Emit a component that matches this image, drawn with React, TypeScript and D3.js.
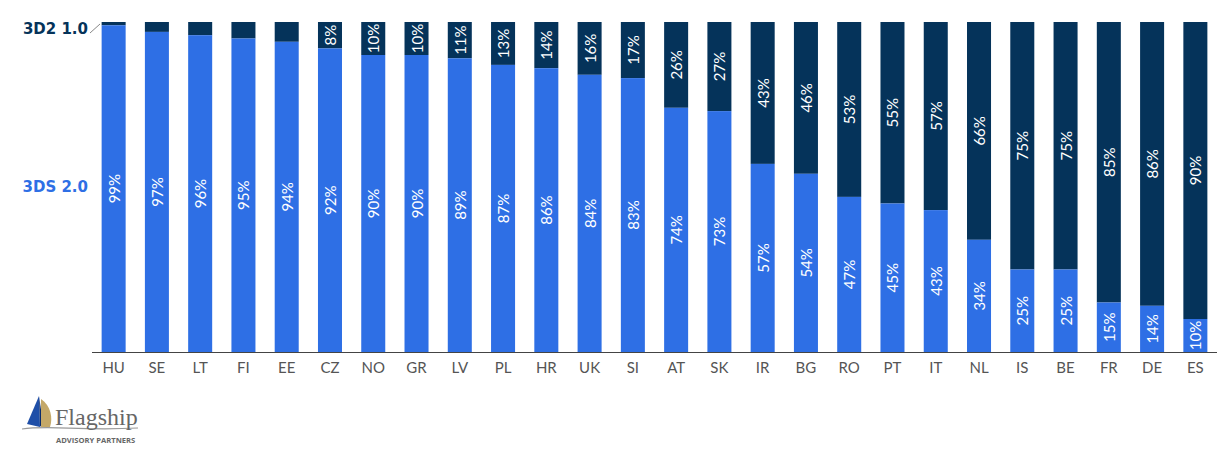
import React from 'react';
import * as d3 from 'd3';

const countries = ['HU', 'SE', 'LT', 'FI', 'EE', 'CZ', 'NO', 'GR', 'LV', 'PL', 'HR', 'UK', 'SI', 'AT', 'SK', 'IR', 'BG', 'RO', 'PT', 'IT', 'NL', 'IS', 'BE', 'FR', 'DE', 'ES'];
const ds2 = [99, 97, 96, 95, 94, 92, 90, 90, 89, 87, 86, 84, 83, 74, 73, 57, 54, 47, 45, 43, 34, 25, 25, 15, 14, 10];
const ds1 = [1, 3, 4, 5, 6, 8, 10, 10, 11, 13, 14, 16, 17, 26, 27, 43, 46, 53, 55, 57, 66, 75, 75, 85, 86, 90];

const W = 1231;
const H = 456;
const BLUE = '#2e6fe5';
const NAVY = '#05335a';
const FONT = 'Lato, "Open Sans", sans-serif';

const App = () => {
  const x = d3.scaleBand<string>().domain(countries).range([92, 1217]).paddingInner(0.445).paddingOuter(0.2225);
  const y = d3.scaleLinear().domain([0, 100]).range([352, 22]);
  const bw = x.bandwidth();

  return (
    <svg width={W} height={H} style={{ position: 'absolute', left: 0, top: 0 }}>
      {countries.map((c, i) => {
        const x0 = x(c) as number;
        const cx = x0 + bw / 2;
        const blueTop = y(ds2[i]);
        const navyTop = y(ds2[i] + ds1[i]);
        const bMid = (blueTop + y(0)) / 2;
        const nMid = (navyTop + blueTop) / 2;
        return (
          <g key={c}>
            <rect x={x0} y={navyTop} width={bw} height={blueTop - navyTop} fill={NAVY} />
            <rect x={x0} y={blueTop} width={bw} height={y(0) - blueTop} fill={BLUE} />
            <text transform={`translate(${cx},${bMid}) rotate(-90)`} textAnchor="middle" dominantBaseline="central"
              fill="#fff" fontFamily={FONT} fontSize={15}>{ds2[i]}%</text>
            {ds1[i] >= 8 && (
              <text transform={`translate(${cx},${nMid}) rotate(-90)`} textAnchor="middle" dominantBaseline="central"
                fill="#fff" fontFamily={FONT} fontSize={15}>{ds1[i]}%</text>
            )}
            <text x={cx} y={367} textAnchor="middle" dominantBaseline="central" fill="#555" fontFamily={FONT} fontSize={15}>{c}</text>
          </g>
        );
      })}
      <line x1={92} x2={1217} y1={352.5} y2={352.5} stroke="#444" strokeWidth={1} />

      <text x={88} y={29} textAnchor="end" dominantBaseline="central" fill={NAVY} fontFamily={'"DejaVu Sans", sans-serif'} fontWeight={700} fontSize={15}>3D2 1.0</text>
      <line x1={90} y1={33} x2={100} y2={24} stroke="#888" strokeWidth={1} />
      <text x={88} y={187} textAnchor="end" dominantBaseline="central" fill={BLUE} fontFamily={'"DejaVu Sans", sans-serif'} fontWeight={700} fontSize={15}>3DS 2.0</text>

      <g>
        <path d="M39,396 L27,424 L40,427 Z" fill="#1f4fa8" />
        <path d="M39,396 L43,423 L40,427 Z" fill="#0a2a6a" />
        <path d="M41,399 C51,406 53,418 50,427 L41,427 Z" fill="#c4a868" />
        <path d="M22,429 C50,425 80,431 138,428" fill="none" stroke="#999" strokeWidth={1.2} />
        <text x={55} y={425} fill="#666" fontFamily={'"Liberation Serif", serif'} fontSize={24}>Flagship</text>
        <text x={56} y={443} fill="#666" fontFamily={'"Open Sans", sans-serif'} fontWeight={700} fontSize={7.6}>ADVISORY PARTNERS</text>
      </g>
    </svg>
  );
};

export default App;
